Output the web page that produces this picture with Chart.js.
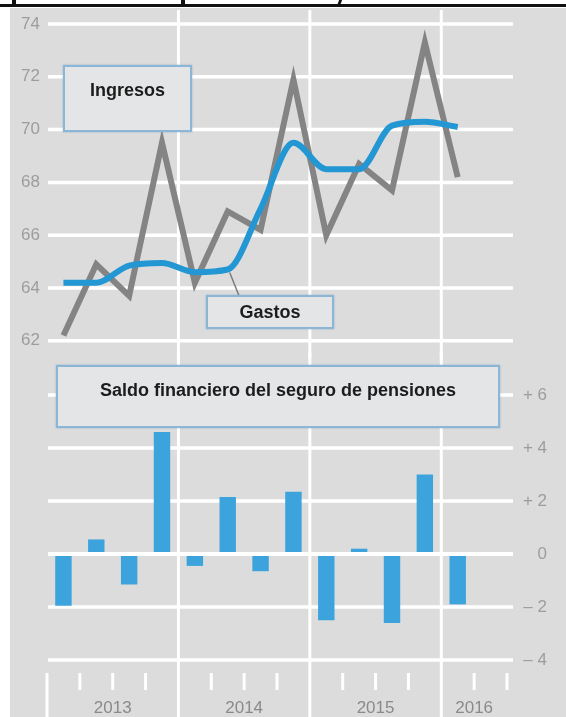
<!DOCTYPE html>
<html lang="es">
<head>
<meta charset="UTF-8">
<title>Seguro de pensiones: ingresos y gastos</title>
<script src="https://cdn.jsdelivr.net/npm/chart.js"></script>
<style>
    body {
        margin: 0;
        padding: 0;
        background: #fff;
        font-family: "Liberation Sans", Arial, sans-serif;
    }
    #wrap {
        position: relative;
        width: 566px;
        height: 717px;
        overflow: hidden;
    }
    #paper {
        position: absolute;
        left: 10px;
        top: 8px;
        width: 556px;
        height: 709px;
        background: #dcdcdc;
    }
    .rule {
        position: absolute;
        left: 0;
        top: 4px;
        width: 566px;
        height: 3px;
        background: #111;
    }
    .stub {
        position: absolute;
        top: 0;
        width: 4px;
        height: 5px;
        background: #111;
    }
    canvas {
        position: absolute;
        left: 0;
    }
    #topChart { top: 0; }
    #bottomChart { top: 352px; }
    .box {
        position: absolute;
        box-sizing: border-box;
        background: #e3e5e7;
        border: 2px solid #8cb6d6;
        box-shadow: 0 0 2px rgba(70, 130, 180, 0.45);
        color: #1c1c1c;
        font-weight: bold;
        font-size: 18px;
        text-align: center;
    }
    #boxIngresos { left: 63px; top: 65px; width: 129px; height: 67px; padding-top: 13px; line-height: 20px; }
    #boxGastos { left: 206px; top: 295px; width: 128px; height: 34px; line-height: 30px; }
    #boxSaldo { left: 56px; top: 365px; width: 444px; height: 63px; padding-top: 13px; line-height: 20px; }
</style>
</head>
<body>
<div id="wrap">
    <div id="paper"></div>
    <div class="rule"></div>
    <div class="stub" style="left: 12px;"></div>
    <div class="stub" style="left: 181px;"></div>
    <div class="stub" style="left: 338px; width: 3px; height: 6px; transform: skewX(-20deg);"></div>
    <canvas id="topChart" width="566" height="358"></canvas>
    <canvas id="bottomChart" width="566" height="365"></canvas>
    <div class="box" id="boxIngresos">Ingresos</div>
    <div class="box" id="boxGastos">Gastos</div>
    <div class="box" id="boxSaldo">Saldo financiero del seguro de pensiones</div>
</div>
<script>
    // quarters 2013 I .. 2016 II (last slot is empty)
    const quarters = ['I 2013', 'II 2013', 'III 2013', 'IV 2013',
                      'I 2014', 'II 2014', 'III 2014', 'IV 2014',
                      'I 2015', 'II 2015', 'III 2015', 'IV 2015',
                      'I 2016', 'II 2016'];
    const years = ['2013', '2014', '2015', '2016'];
    const quartersPerYear = [4, 4, 4, 2];

    // thousand million euro
    const ingresos = [62.2, 64.9, 63.7, 69.5, 64.2, 66.9, 66.2, 71.9, 66.0, 68.7, 67.7, 73.3, 68.2];
    const gastos = [64.2, 64.2, 64.85, 64.95, 64.6, 64.7, 67.0, 69.5, 68.5, 68.5, 70.15, 70.3, 70.1];
    const saldo = [-1.95, 0.55, -1.15, 4.6, -0.45, 2.15, -0.65, 2.35, -2.5, 0.2, -2.6, 3.0, -1.9];

    const topTickLabels = ['62', '64', '66', '68', '70', '72', '74'];
    const saldoTickLabels = ['\u2013 4', '\u2013 2', '0', '+ 2', '+ 4', '+ 6'];

    const FONT = '"Liberation Sans", Arial, sans-serif';
    const GRID = '#ffffff';
    Chart.defaults.font.family = FONT;

    function line(ctx, x1, y1, x2, y2) {
        ctx.beginPath();
        ctx.moveTo(x1, y1);
        ctx.lineTo(x2, y2);
        ctx.stroke();
    }

    // quarter boundary positions taken from the category scale
    function boundaries(x) {
        const slot = x.getPixelForValue(1) - x.getPixelForValue(0);
        const start = x.getPixelForValue(0) - slot / 2;
        return quarters.map((q, i) => start + i * slot).concat([start + quarters.length * slot]);
    }

    function yearEdges() {
        let n = 0;
        const edges = [0];
        quartersPerYear.forEach(q => { n += q; edges.push(n); });
        return edges;
    }

    function hGrid(chart) {
        const { ctx, chartArea, scales: { y } } = chart;
        ctx.save();
        ctx.strokeStyle = GRID;
        ctx.lineWidth = 3.5;
        y.ticks.forEach(t => {
            const py = y.getPixelForValue(t.value);
            line(ctx, chartArea.left + 1, py, chartArea.right + 6, py);
        });
        ctx.restore();
    }

    function yearLines(chart, top, bottom) {
        const { ctx, scales: { x } } = chart;
        const b = boundaries(x);
        const edges = yearEdges();
        ctx.save();
        ctx.strokeStyle = GRID;
        ctx.lineWidth = 3;
        edges.slice(1, -1).forEach(e => line(ctx, b[e], top, b[e], bottom));
        ctx.restore();
    }

    const topDecor = {
        id: 'topDecor',
        beforeDatasetsDraw(chart) {
            hGrid(chart);
            yearLines(chart, 10, chart.height);
        },
        afterDatasetsDraw(chart) {
            // pointer from the Gastos label to its line
            const { ctx, scales: { x, y } } = chart;
            const px = x.getPixelForValue(5);
            const py = y.getPixelForValue(gastos[5]);
            ctx.save();
            ctx.strokeStyle = '#7d7d7d';
            ctx.lineWidth = 1.5;
            line(ctx, px + 2, py + 3, px + 11, 295);
            ctx.restore();
        }
    };

    const bottomDecor = {
        id: 'bottomDecor',
        beforeDatasetsDraw(chart) {
            hGrid(chart);
            yearLines(chart, 0, chart.height);
        },
        afterDatasetsDraw(chart) {
            const { ctx, chartArea, scales: { y } } = chart;
            const py = y.getPixelForValue(0);
            ctx.save();
            ctx.strokeStyle = GRID;
            ctx.lineWidth = 4;
            line(ctx, chartArea.left + 1, py, chartArea.right + 6, py);
            ctx.restore();
        },
        afterDraw(chart) {
            const { ctx, chartArea, scales: { x } } = chart;
            const b = boundaries(x);
            const edges = yearEdges();
            const tickTop = chartArea.bottom + 13;
            ctx.save();
            ctx.strokeStyle = GRID;
            ctx.lineWidth = 3;
            b.forEach((bx, i) => {
                if (edges.indexOf(i) > 0 && i < quarters.length) return;
                line(ctx, bx, tickTop, bx, i === 0 ? chart.height : tickTop + 17);
            });
            ctx.fillStyle = '#8a8a8a';
            ctx.font = '17px ' + FONT;
            ctx.textAlign = 'center';
            ctx.textBaseline = 'middle';
            years.forEach((yr, i) => {
                const cx = (b[edges[i]] + b[edges[i + 1]]) / 2;
                ctx.fillText(yr, cx, chart.height - 9);
            });
            ctx.restore();
        }
    };

    new Chart(document.getElementById('topChart'), {
        type: 'line',
        data: {
            labels: quarters,
            datasets: [
                {
                    label: 'Gastos',
                    data: gastos,
                    borderColor: '#2397d3',
                    borderWidth: 6,
                    pointRadius: 0,
                    cubicInterpolationMode: 'monotone',
                    order: 0
                },
                {
                    label: 'Ingresos',
                    data: ingresos,
                    borderColor: '#848484',
                    borderWidth: 6,
                    pointRadius: 0,
                    tension: 0,
                    order: 1
                }
            ]
        },
        options: {
            responsive: false,
            animation: false,
            devicePixelRatio: 1,
            layout: { padding: { top: 24, right: 59, bottom: 0, left: 0 } },
            plugins: { legend: { display: false }, tooltip: { enabled: false } },
            scales: {
                x: { display: false, offset: true },
                y: {
                    min: 62,
                    max: 74,
                    afterFit: s => { s.width = 47; },
                    grid: { display: false, drawTicks: false },
                    border: { display: false },
                    ticks: {
                        stepSize: 2,
                        padding: 7,
                        color: '#9d9d9d',
                        font: { size: 17 },
                        callback: (v, i) => topTickLabels[i]
                    }
                }
            }
        },
        plugins: [topDecor]
    });

    new Chart(document.getElementById('bottomChart'), {
        type: 'bar',
        data: {
            labels: quarters,
            datasets: [{
                label: 'Saldo financiero',
                data: saldo,
                backgroundColor: '#3ca3dc',
                barPercentage: 0.5,
                categoryPercentage: 1
            }]
        },
        options: {
            responsive: false,
            animation: false,
            devicePixelRatio: 1,
            layout: { padding: { top: 43, right: 19, bottom: 57, left: 47 } },
            plugins: { legend: { display: false }, tooltip: { enabled: false } },
            scales: {
                x: { display: false },
                y: {
                    position: 'right',
                    min: -4,
                    max: 6,
                    afterFit: s => { s.width = 40; },
                    grid: { display: false, drawTicks: false },
                    border: { display: false },
                    ticks: {
                        stepSize: 2,
                        padding: 0,
                        crossAlign: 'far',
                        color: '#9d9d9d',
                        font: { size: 17 },
                        callback: (v, i) => saldoTickLabels[i]
                    }
                }
            }
        },
        plugins: [bottomDecor]
    });
</script>
</body>
</html>
